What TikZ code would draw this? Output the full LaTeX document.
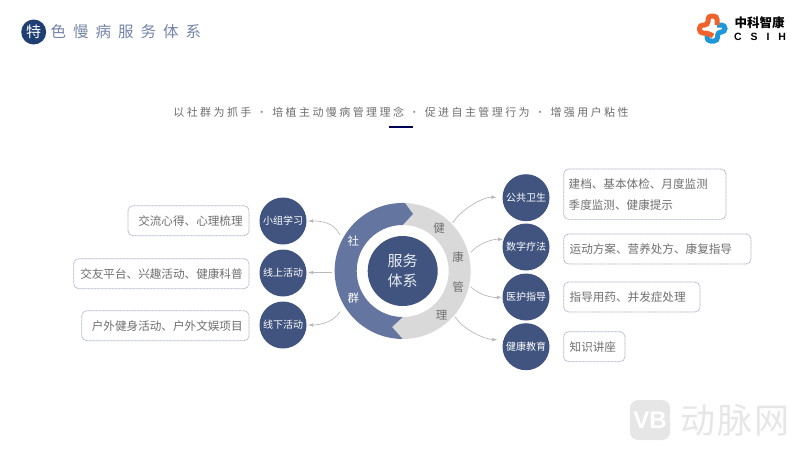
\documentclass[tikz,border=0pt]{standalone}
\usepackage{fontspec}
\setmainfont{Noto Sans CJK SC}
\newfontfamily\csihfont{Liberation Sans}
\usetikzlibrary{shapes}
\definecolor{navy}{HTML}{40547F}
\definecolor{darknavy}{HTML}{1F3F73}
\definecolor{ringblue}{HTML}{6475A0}
\definecolor{ringgrey}{HTML}{D9D9D9}
\definecolor{titleblue}{HTML}{7484A8}
\definecolor{boxline}{HTML}{A9AEC6}
\definecolor{textgrey}{HTML}{6E6E6E}
\definecolor{wmgrey}{HTML}{E6E6E6}
\definecolor{logoblue}{HTML}{1E96D8}
\definecolor{logoorange}{HTML}{F0622B}
\tikzstyle{vertex}=[circle,fill=navy,text=white,minimum size=47pt,inner sep=0pt,font=\fontsize{10}{12}\selectfont]
\tikzstyle{infobox}=[draw=boxline,dash pattern=on 0.9pt off 0.5pt,line width=0.7pt,rounded corners=5pt,minimum height=30pt,inner ysep=0pt,inner xsep=6pt,text=textgrey,font=\fontsize{11.6}{21}\selectfont]
\tikzstyle{ringtext}=[inner sep=0pt,font=\fontsize{11.5}{14}\selectfont]
\tikzstyle{conn}=[draw=black!28,line width=0.7pt,-latex]
\newcommand{\ringR}{68}
\newcommand{\ringr}{46}

\begin{document}
\begin{tikzpicture}[x=1pt,y=-1pt]
	\useasboundingbox (0,0) rectangle (800,450);
	% title
	\node[circle,fill=darknavy,minimum size=25pt,inner sep=0pt,text=white,font=\fontsize{15}{18}\selectfont] (t1) at (33.7,32) {特};
	\node[anchor=west,inner sep=0pt,text=titleblue,font=\fontsize{15.5}{18}\addfontfeature{LetterSpace=45}\selectfont] (t2) at (50.5,32) {色慢病服务体系};
	\node[inner sep=0pt,text=textgrey,font=\fontsize{11}{14}\addfontfeature{LetterSpace=22}\selectfont] (sub) at (401,112) {以社群为抓手 \textcolor{black!40}{·} 培植主动慢病管理理念 \textcolor{black!40}{·} 促进自主管理行为 \textcolor{black!40}{·} 增强用户粘性};
	\coordinate (u1) at (389,127);
	\coordinate (u2) at (413,127);
	\draw[line width=2pt,color=blue!35!black] (u1) -- (u2);

	% ring
	\fill[ringgrey] (405,203) arc[start angle=-88,end angle=90,radius=\ringR] -- (392,327) -- (402.7,317) arc[start angle=90,end angle=-90,radius=\ringr] -- (413,214) -- cycle;
	\fill[ringblue] (405,203) arc[start angle=-88,end angle=-270,radius=\ringR] -- (392,327) -- (402.7,317) arc[start angle=-270,end angle=-90,radius=\ringr] -- (413,214) -- cycle;
	\node[circle,fill=navy,minimum size=70pt,inner sep=0pt,text=white!88!navy,align=center,font=\fontsize{15}{19.5}\selectfont] (00) at (402.7,271) {服务\\体系};
	\node[ringtext,text=white] (s1) at (353.3,241) {社};
	\node[ringtext,text=white] (s2) at (353.3,298) {群};
	\node[ringtext,text=textgrey] (j1) at (439,227.7) {健};
	\node[ringtext,text=textgrey] (j2) at (458,256.7) {康};
	\node[ringtext,text=textgrey] (j3) at (458,287) {管};
	\node[ringtext,text=textgrey] (j4) at (441.7,315) {理};

	% left side
	\node[vertex] (L1) at (283,221) {小组学习};
	\node[vertex] (L2) at (283,273) {线上活动};
	\node[vertex] (L3) at (283,325) {线下活动};
	\node[infobox,text width=108.3pt,inner xsep=6.4pt,align=right] (LB1) at (188.5,220.7) {交流心得、心理梳理};
	\node[infobox,text width=162.5pt,inner xsep=6.4pt,align=right] (LB2) at (161.4,273.7) {交友平台、兴趣活动、健康科普};
	\node[infobox,text width=154.5pt,inner xsep=6.4pt,align=right] (LB3) at (165.4,325.7) {户外健身活动、户外文娱项目};
	\coordinate (a1) at (340,235);
	\coordinate (a2) at (331.7,272.5);
	\coordinate (a3) at (340,311.7);
	\draw[conn,shorten >=1.5pt] (a1) .. controls +(-6,-13) and +(14,0) .. (L1.east);
	\draw[conn,shorten >=1.5pt] (a2) -- (L2.east |- a2);
	\draw[conn,shorten >=1.5pt] (a3) .. controls +(-6,10) and +(14,0) .. (L3.east);

	% right side
	\node[vertex] (R1) at (526,197.7) {公共卫生};
	\node[vertex] (R2) at (526,247) {数字疗法};
	\node[vertex] (R3) at (526,297) {医护指导};
	\node[vertex] (R4) at (526,346.7) {健康教育};
	\node[infobox,minimum height=50.3pt,text width=152.3pt,align=left,inner xsep=5pt] (RB1) at (644.8,194.2) {建档、基本体检、月度监测\\季度监测、健康提示};
	\node[infobox,text width=175.3pt,align=left] (RB2) at (657.3,249) {运动方案、营养处方、康复指导};
	\node[infobox,text width=124.3pt,align=left] (RB3) at (631.8,297) {指导用药、并发症处理};
	\node[infobox,text width=49.3pt,align=left] (RB4) at (594.3,346.7) {知识讲座};
	\coordinate (b1) at (452.7,222.7);
	\coordinate (b2) at (470.7,252.3);
	\coordinate (b3) at (470.7,286.7);
	\coordinate (b4) at (455,316.7);
	\draw[conn,shorten >=6pt] (b1) .. controls +(10,-15) and +(-18,-1) .. (R1.west);
	\draw[conn,shorten >=0.5pt] (b2) .. controls +(8,-9) and +(-10,-1) .. (R2.162);
	\draw[conn,shorten >=0.5pt] (b3) .. controls +(8,8) and +(-10,1) .. (R3.west);
	\draw[conn,shorten >=6pt] (b4) .. controls +(9,14) and +(-18,-1) .. (R4.164);

	% logo
	\draw[line width=5pt,color=logoblue,rounded corners=3.5pt] (707,35) -- (707,41) -- (717.5,41) -- (717.5,32) -- (725,32) -- (725,25) -- (717,25);
	\draw[line width=5pt,color=logoorange,rounded corners=3.5pt] (717,25) -- (717,16) -- (708,16) -- (708,25) -- (699.5,25) -- (699.5,33) -- (708,33) -- (713,36);
	\node[inner sep=0pt,font=\fontsize{12.5}{15}\bfseries\selectfont] (lg1) at (759.5,23) {中科智康};
	\node[anchor=west,inner sep=0pt,font=\csihfont\bfseries\fontsize{10.5}{12}\selectfont\addfontfeature{LetterSpace=85}] (lg2) at (734,37) {CSIH};

	% watermark
	\node[fill=wmgrey,rounded corners=8pt,minimum size=40pt,inner sep=0pt,text=white,font=\csihfont\bfseries\fontsize{24}{26}\selectfont] (w1) at (650,420) {VB};
	\node[inner sep=0pt,text=wmgrey,font=\fontsize{35}{38}\selectfont\addfontfeature{LetterSpace=6}] (w2) at (735,420) {动脉网};
\end{tikzpicture}
\end{document}
